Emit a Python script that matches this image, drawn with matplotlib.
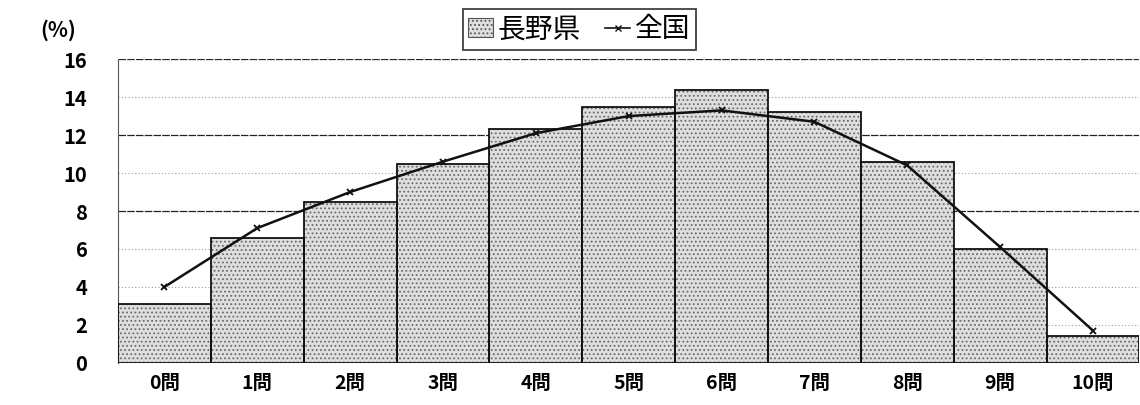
import numpy as np
import matplotlib
matplotlib.use("Agg")
import matplotlib.pyplot as plt
from matplotlib.lines import Line2D
from matplotlib.patches import Patch

plt.rcParams['font.family'] = ['Noto Sans CJK JP', 'DejaVu Sans']
plt.rcParams['hatch.linewidth'] = 0.8

# number of correct answers (0-10)
categories = ["0問", "1問", "2問", "3問", "4問", "5問", "6問", "7問", "8問", "9問", "10問"]
nagano = [3.1, 6.6, 8.5, 10.5, 12.3, 13.5, 14.4, 13.2, 10.6, 6.0, 1.4]
zenkoku = [4.0, 7.1, 9.0, 10.6, 12.1, 13.0, 13.3, 12.7, 10.4, 6.1, 1.7]
yticks = [0, 2, 4, 6, 8, 10, 12, 14, 16]

fig = plt.figure(figsize=(11.4, 4.05), dpi=100)
ax = fig.add_axes([0.1035, 0.104, 0.896, 0.750])

x = np.arange(len(categories))

# grid: darker lines at 8/12/16, light dotted elsewhere
for v in yticks[1:]:
    if v in (8, 12, 16):
        ax.axhline(v, color="#222222", lw=0.9, ls=(0, (6, 1)), zorder=0)
    else:
        ax.axhline(v, color="#999999", lw=0.8, ls=(0, (1, 2)), zorder=0)

# stippled bars: hatch layer then black outline
ax.bar(x, nagano, width=1.0, facecolor="#dedede", edgecolor="#6a6a6a",
       hatch="....", linewidth=0, zorder=2)
ax.bar(x, nagano, width=1.0, facecolor="none", edgecolor="#111111",
       linewidth=1.3, zorder=3)

ax.plot(x, zenkoku, color="#111111", lw=1.8, marker="x", markersize=5,
        markeredgewidth=1.3, zorder=4)

ax.set_xlim(-0.5, len(categories) - 0.5)
ax.set_ylim(0, 16)
ax.set_yticks(yticks)
ax.set_yticklabels([str(v) for v in yticks], fontsize=14.5, fontweight="bold")
ax.set_xticks(x)
ax.set_xticklabels(categories, fontsize=14, fontweight="bold")
ax.tick_params(axis="both", length=0)
ax.tick_params(axis="y", pad=22)
ax.tick_params(axis="x", pad=8)

for s in ["top", "right", "bottom"]:
    ax.spines[s].set_visible(False)
ax.spines["left"].set_linestyle((0, (1, 1)))
ax.spines["left"].set_color("#555555")
ax.spines["left"].set_linewidth(0.8)

fig.text(0.035, 0.925, "(%)", fontsize=15, fontweight="bold", ha="left", va="center")

handles = [
    Patch(facecolor="#dedede", edgecolor="#555555", hatch="....", linewidth=0.8),
    Line2D([0], [0], color="#111111", lw=1.2, marker="x", markersize=5),
]
leg = fig.legend(handles, ["長野県", "全国"], loc="upper center",
                 bbox_to_anchor=(0.508, 0.985), ncol=2, fontsize=20,
                 frameon=True, fancybox=False, handlelength=0.9,
                 handleheight=0.7, handletextpad=0.15, columnspacing=0.9,
                 borderpad=0.2, borderaxespad=0.1)
leg.get_frame().set_edgecolor("#111111")
leg.get_frame().set_linewidth(1.3)

fig.savefig("out.png", dpi=100)
